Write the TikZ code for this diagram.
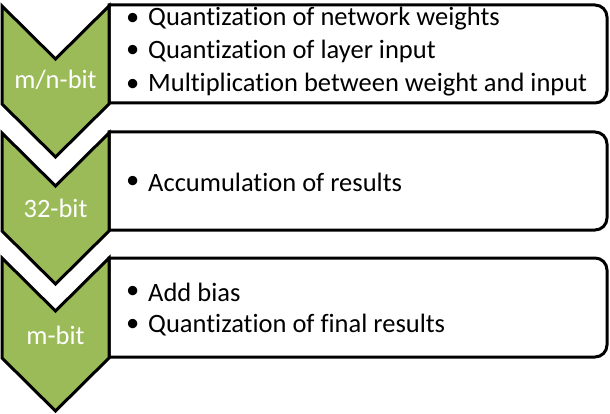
\documentclass[tikz,border=0pt]{standalone}
\usepackage{fontspec}
\setmainfont{Carlito}[Ligatures=NoCommon]
\definecolor{chevgreen}{HTML}{9BBB59}
\begin{document}
\begin{tikzpicture}[x=1pt,y=-1pt,
  chev/.style={draw=black,fill=chevgreen,line width=3pt,line join=miter},
  box/.style={draw=black,fill=white,line width=3pt},
  lbl/.style={text=white,font=\fontsize{26.5}{31}\selectfont,inner sep=0pt},
  bul/.style={anchor=west,font=\fontsize{26.5}{31}\selectfont,inner sep=0pt},
  itm/.style={anchor=west,font=\fontsize{26.5}{31}\selectfont,inner sep=0pt}]
\useasboundingbox (0,0) rectangle (610,414);
% boxes
\draw[box] (109,5) -- (400,5) [rounded corners=12pt] -- (607,5) -- (607,103) -- (400,103) [sharp corners] -- (109,103) -- cycle;
\draw[box] (109,132) -- (400,132) [rounded corners=12pt] -- (607,132) -- (607,230) -- (400,230) [sharp corners] -- (109,230) -- cycle;
\draw[box] (109,258) -- (400,258) [rounded corners=12pt] -- (607,258) -- (607,357) -- (400,357) [sharp corners] -- (109,357) -- cycle;
% chevrons
\draw[chev] (2,6) -- (55.5,59) -- (109,6) -- (109,104) -- (55.5,157) -- (2,104) -- cycle;
\draw[chev] (2,133) -- (55.5,186) -- (109,133) -- (109,231) -- (55.5,284) -- (2,231) -- cycle;
\draw[chev] (2,258) -- (55.5,311) -- (109,258) -- (109,358) -- (55.5,411) -- (2,358) -- cycle;
% labels
\node[lbl] (l1) at (55.5,80) {m/n-bit};
\node[lbl] (l2) at (55.5,208) {32-bit};
\node[lbl] (l3) at (55.5,335) {m-bit};
% items
\node[bul] (b1) at (126,19) {•};
\node[itm] (t1) at (148,19) {Quantization of network weights};
\node[bul] (b2) at (126,51) {•};
\node[itm] (t2) at (148,51) {Quantization of layer input};
\node[bul] (b3) at (126,85) {•};
\node[itm] (t3) at (148,85) {Multiplication between weight and input};
\node[bul] (b4) at (126,182) {•};
\node[itm] (t4) at (148,182) {Accumulation of results};
\node[bul] (b5) at (126,292) {•};
\node[itm] (t5) at (148,292) {Add bias};
\node[bul] (b6) at (126,325) {•};
\node[itm] (t6) at (148,325) {Quantization of final results};
\end{tikzpicture}
\end{document}
